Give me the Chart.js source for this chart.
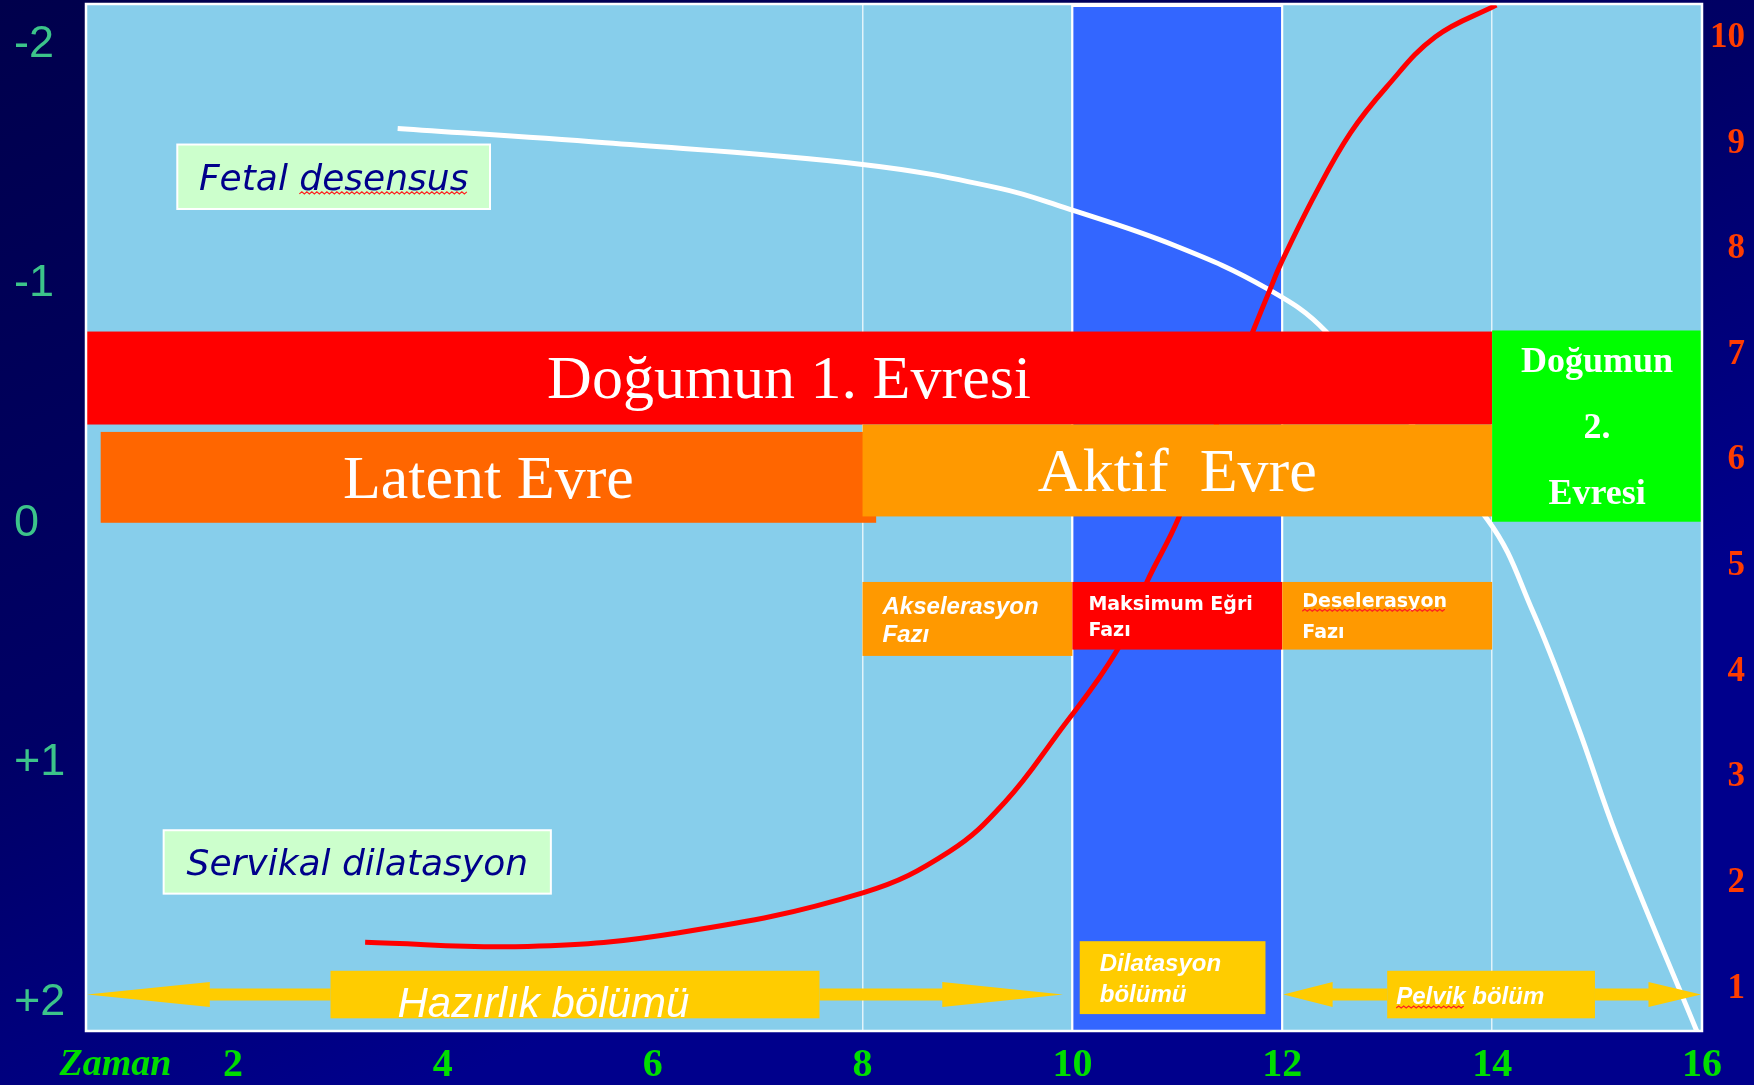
<!DOCTYPE html>
<html lang="tr">
<head>
<meta charset="utf-8">
<title>Doğum eylemi - Friedman eğrisi</title>
<script src="https://cdn.jsdelivr.net/npm/chart.js@4.4.1/dist/chart.umd.min.js"></script>
<style>
  html, body { margin: 0; padding: 0; background: #000066; }
  #wrap { width: 1754px; height: 1085px; }
</style>
</head>
<body>
<div id="wrap"><canvas id="friedman"></canvas></div>
<script>
"use strict";

// time axis (hours) and the two vertical axes
const hourTicks = [2, 4, 6, 8, 10, 12, 14, 16];
const zamanAt = 0.88;
const stationTicks = [-2, -1, 0, 1, 2];            // fetal station, left
const dilationTicks = [1, 2, 3, 4, 5, 6, 7, 8, 9, 10]; // cm, right

// servikal dilatasyon (red)
const dilationHours = [3.26, 4.81, 6.25, 8.01, 8.83, 9.36, 9.85, 10.43, 10.71, 11.01, 11.72, 11.88, 11.99, 12.32, 12.65, 12.99, 13.46, 14.04];
const dilationCm = [1.44, 1.40, 1.53, 1.91, 2.30, 2.77, 3.40, 4.21, 4.85, 5.45, 7.22, 7.61, 7.87, 8.53, 9.10, 9.53, 10.01, 10.31];

// fetal desensus (white)
const descentHours = [3.57, 5.55, 8.0, 9.31, 9.92, 10.98, 11.86, 12.42, 13.95, 14.39, 14.81, 15.19, 15.95];
const descentStation = [-1.65, -1.59, -1.50, -1.40, -1.32, -1.16, -0.98, -0.80, -0.02, 0.37, 0.84, 1.31, 2.12];

// dilatation band (hours)
const bandHours = [10, 12];

// phase boxes: hours from/to, cm low/high
const phaseNames = ['Doğumun 1. Evresi', 'Latent Evre', 'Aktif  Evre', 'Doğumun\n2.\nEvresi',
  'Akselerasyon\nFazı', 'Maksimum Eğri\nFazı', 'Deselerasyon\nFazı', 'Dilatasyon\nbölümü'];
const phaseStart = [0.6, 0.74, 8, 14, 8, 10, 12, 10.07];
const phaseEnd = [14, 8.13, 14, 16, 10, 12, 14, 11.84];
const phaseLow = [6.34, 5.41, 5.47, 5.42, 4.15, 4.21, 4.21, 0.76];
const phaseHigh = [7.22, 6.27, 6.34, 7.23, 4.85, 4.85, 4.85, 1.45];

// double arrows along the bottom
const spanNames = ['Hazırlık bölümü', 'Pelvik bölüm'];
const spanTipLeft = [0.61, 12.01];
const spanHeadLeft = [1.78, 12.48];
const spanBoxLeft = [2.93, 13.0];
const spanBoxRight = [7.59, 14.98];
const spanHeadRight = [8.76, 15.49];
const spanTipRight = [9.91, 15.99];
const spanLow = [0.72, 0.72];
const spanHigh = [1.17, 1.17];

// caption boxes
const noteNames = ['Fetal desensus', 'Servikal dilatasyon'];
const noteStart = [1.47, 1.34];
const noteEnd = [4.45, 5.03];
const noteLow = [8.38, 1.90];
const noteHigh = [8.99, 2.50];

// styles
const phaseFill = ['#ff0000', '#ff6600', '#ff9900', '#00ff00', '#ff9900', '#ff0000', '#ff9900', '#ffcc00'];
const phaseFont = ['62px "Liberation Serif"', '62px "Liberation Serif"', '62px "Liberation Serif"', 'bold 36px "Liberation Serif"',
  'italic bold 24px "Liberation Sans"', 'bold 19px "DejaVu Sans"', 'bold 19px "DejaVu Sans"', 'italic bold 24px "Liberation Sans"'];
const phaseCap = [0.66, 0.66, 0.66, 0.66, 0.72, 0.73, 0.73, 0.72];
const phaseGap = [0, 0, 0, 66, 28, 26, 31, 31];
const phaseInset = [null, null, null, null, 20, 16, 20, 20];
const phaseSquiggle = [null, null, null, null, null, null, 'Deselerasyon', null];
const spanFont = ['italic 42px "Liberation Sans"', 'italic bold 24px "Liberation Sans"'];
const spanInset = [67, 9];
const spanDrop = [22, 9.5];
const spanSquiggle = [null, 'Pelvik'];
const noteSquiggle = ['desensus', null];

function squiggle(ctx, x0, x1, y) {
  ctx.save();
  ctx.strokeStyle = '#ff2020';
  ctx.lineWidth = 1.2;
  ctx.beginPath();
  let up = true;
  ctx.moveTo(x0, y);
  for (let x = x0 + 2.5; x <= x1; x += 2.5) {
    ctx.lineTo(x, up ? y - 2 : y);
    up = !up;
  }
  ctx.stroke();
  ctx.restore();
}

// draws (multi-line) text; x is the left edge, or the centre when centred
function drawLines(ctx, text, font, cap, x, yMid, gap, centred, flagWord, color) {
  const lines = text.split('\n');
  ctx.font = font;
  ctx.fillStyle = color;
  ctx.textAlign = 'left';
  ctx.textBaseline = 'alphabetic';
  const size = parseFloat(font.match(/(\d+)px/)[1]);
  lines.forEach((line, i) => {
    const w = ctx.measureText(line).width;
    const left = centred ? x - w / 2 : x;
    const base = yMid + (i - (lines.length - 1) / 2) * gap + cap * size / 2;
    ctx.fillText(line, left, base);
    if (flagWord && line.indexOf(flagWord) >= 0) {
      const pre = ctx.measureText(line.slice(0, line.indexOf(flagWord))).width;
      squiggle(ctx, left + pre, left + pre + ctx.measureText(flagWord).width, base + 4);
    }
  });
}

// no label overhang padding, so the plot fills the frame
function noOverhang(scale) {
  scale.paddingTop = 0;
  scale.paddingBottom = 0;
  scale.paddingLeft = 0;
  scale.paddingRight = 0;
}

const friedmanDecor = {
  id: 'friedmanDecor',
  beforeDraw(chart) {
    const { ctx, chartArea: a, scales } = chart;
    ctx.save();
    const g = ctx.createLinearGradient(0, 0, chart.width * 0.25, chart.height);
    g.addColorStop(0, '#00004c');
    g.addColorStop(0.6, '#000066');
    g.addColorStop(1, '#00008c');
    ctx.fillStyle = g;
    ctx.fillRect(0, 0, chart.width, chart.height);

    ctx.fillStyle = '#87ceeb';
    ctx.fillRect(a.left, a.top, a.right - a.left, a.bottom - a.top);

    const x0 = scales.x.getPixelForValue(bandHours[0]);
    const x1 = scales.x.getPixelForValue(bandHours[1]);
    ctx.fillStyle = '#3366ff';
    ctx.fillRect(x0, a.top + 2, x1 - x0, a.bottom - a.top - 2);
    ctx.strokeStyle = '#ffffff';
    ctx.lineWidth = 2;
    ctx.strokeRect(x0, a.top + 2, x1 - x0, a.bottom - a.top - 2);
    ctx.restore();
  },
  afterDatasetsDraw(chart) {
    const { ctx, chartArea: a, scales } = chart;
    const px = v => scales.x.getPixelForValue(v);
    const py = v => scales.yR.getPixelForValue(v);
    ctx.save();

    // phase boxes
    phaseNames.forEach((name, i) => {
      const x0 = px(phaseStart[i]), x1 = px(phaseEnd[i]);
      const y0 = py(phaseHigh[i]), y1 = py(phaseLow[i]);
      ctx.fillStyle = phaseFill[i];
      ctx.fillRect(x0, y0, x1 - x0, y1 - y0);
    });
    phaseNames.forEach((name, i) => {
      const x0 = px(phaseStart[i]), x1 = px(phaseEnd[i]);
      const yMid = (py(phaseHigh[i]) + py(phaseLow[i])) / 2;
      const centred = phaseInset[i] === null;
      const x = centred ? (x0 + x1) / 2 : x0 + phaseInset[i];
      drawLines(ctx, name, phaseFont[i], phaseCap[i], x, yMid, phaseGap[i], centred, phaseSquiggle[i], '#ffffff');
    });

    // arrows
    spanNames.forEach((name, i) => {
      const yc = (py(spanHigh[i]) + py(spanLow[i])) / 2;
      const shaft = 6, head = 12.5;
      ctx.fillStyle = '#ffcc00';
      const bl = px(spanBoxLeft[i]), br = px(spanBoxRight[i]);
      ctx.fillRect(bl, py(spanHigh[i]), br - bl, py(spanLow[i]) - py(spanHigh[i]));
      [[spanTipLeft[i], spanHeadLeft[i], spanBoxLeft[i]], [spanTipRight[i], spanHeadRight[i], spanBoxRight[i]]].forEach(s => {
        const t = px(s[0]), h = px(s[1]), b = px(s[2]);
        ctx.beginPath();
        ctx.moveTo(t, yc);
        ctx.lineTo(h, yc - head);
        ctx.lineTo(h, yc - shaft);
        ctx.lineTo(b, yc - shaft);
        ctx.lineTo(b, yc + shaft);
        ctx.lineTo(h, yc + shaft);
        ctx.lineTo(h, yc + head);
        ctx.closePath();
        ctx.fill();
      });
      ctx.font = spanFont[i];
      ctx.fillStyle = '#ffffff';
      ctx.textAlign = 'left';
      ctx.textBaseline = 'alphabetic';
      ctx.fillText(name, bl + spanInset[i], yc + spanDrop[i]);
      if (spanSquiggle[i]) {
        squiggle(ctx, bl + spanInset[i], bl + spanInset[i] + ctx.measureText(spanSquiggle[i]).width, yc + spanDrop[i] + 4);
      }
    });

    // caption boxes
    noteNames.forEach((name, i) => {
      const x0 = px(noteStart[i]), x1 = px(noteEnd[i]);
      const y0 = py(noteHigh[i]), y1 = py(noteLow[i]);
      ctx.fillStyle = '#ccffcc';
      ctx.fillRect(x0, y0, x1 - x0, y1 - y0);
      ctx.strokeStyle = '#ffffff';
      ctx.lineWidth = 2;
      ctx.strokeRect(x0, y0, x1 - x0, y1 - y0);
      drawLines(ctx, name, 'italic 36px "DejaVu Sans"', 0.73, (x0 + x1) / 2, (y0 + y1) / 2, 0, true, noteSquiggle[i], '#00008b');
    });

    // plot frame
    ctx.strokeStyle = '#ffffff';
    ctx.lineWidth = 2.5;
    ctx.strokeRect(a.left, a.top, a.right - a.left, a.bottom - a.top);
    ctx.restore();
  }
};

const ctx = document.getElementById('friedman').getContext('2d');

new Chart(ctx, {
  type: 'line',
  data: {
    datasets: [{
      label: 'Servikal dilatasyon',
      data: dilationHours.map((h, i) => ({ x: h, y: dilationCm[i] })),
      yAxisID: 'yR',
      borderColor: '#ff0000',
      borderWidth: 5,
      pointRadius: 0,
      tension: 0.4,
      fill: false
    }, {
      label: 'Fetal desensus',
      data: descentHours.map((h, i) => ({ x: h, y: descentStation[i] })),
      yAxisID: 'yL',
      borderColor: '#ffffff',
      borderWidth: 5,
      pointRadius: 0,
      tension: 0.4,
      fill: false
    }]
  },
  options: {
    responsive: true,
    maintainAspectRatio: false,
    devicePixelRatio: 1,
    animation: false,
    layout: { padding: { left: 14, right: 9, top: 4, bottom: 0 } },
    plugins: {
      legend: { display: false },
      tooltip: { enabled: false }
    },
    scales: {
      x: {
        type: 'linear',
        min: 0.6,
        max: 16,
        afterBuildTicks: scale => { scale.ticks = [zamanAt].concat(hourTicks).map(v => ({ value: v })); },
        afterFit: scale => { scale.height = 54; noOverhang(scale); },
        border: { display: false },
        grid: {
          drawTicks: false,
          color: c => (c.tick && [8, 10, 12, 14].indexOf(c.tick.value) >= 0) ? 'rgba(255,255,255,0.75)' : 'rgba(0,0,0,0)',
          lineWidth: c => (c.tick && (c.tick.value === 10 || c.tick.value === 12)) ? 2 : 1.5
        },
        ticks: {
          autoSkip: false,
          maxRotation: 0,
          padding: 11,
          color: '#00dd00',
          font: c => (c.tick && c.tick.value < 1)
            ? { family: 'Liberation Serif', size: 38, style: 'italic', weight: 'bold' }
            : { family: 'Liberation Serif', size: 40, weight: 'bold' },
          callback: v => v < 1 ? 'Zaman' : String(v)
        }
      },
      yL: {
        type: 'linear',
        position: 'left',
        reverse: true,
        min: -2.17,
        max: 2.12,
        afterBuildTicks: scale => { scale.ticks = stationTicks.map(v => ({ value: v })); },
        afterFit: scale => { scale.width = 72; noOverhang(scale); },
        border: { display: false },
        grid: { display: false },
        ticks: {
          crossAlign: 'far',
          color: '#3cc48a',
          font: { family: 'Liberation Sans', size: 45 },
          callback: v => v > 0 ? '+' + v : String(v)
        }
      },
      yR: {
        type: 'linear',
        position: 'right',
        min: 0.6,
        max: 10.32,
        afterBuildTicks: scale => { scale.ticks = dilationTicks.map(v => ({ value: v })); },
        afterFit: scale => { scale.width = 43; noOverhang(scale); },
        border: { display: false },
        grid: { display: false },
        ticks: {
          crossAlign: 'far',
          color: '#ff3c00',
          font: { family: 'Liberation Serif', size: 35, weight: 'bold' },
          callback: v => String(v)
        }
      }
    }
  },
  plugins: [friedmanDecor]
});
</script>
</body>
</html>
